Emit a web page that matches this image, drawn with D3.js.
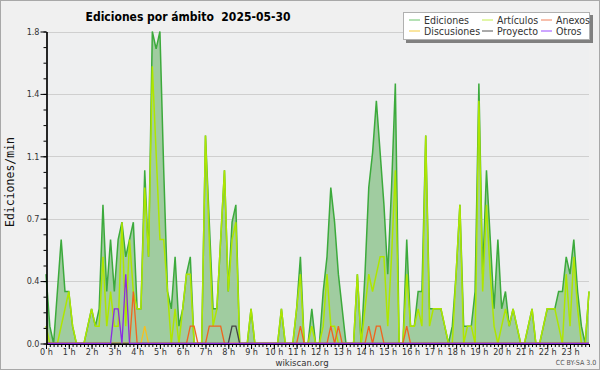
<!DOCTYPE html>
<html>
<head>
<meta charset="utf-8">
<script src="https://cdn.jsdelivr.net/npm/d3@7"></script>
<style>
  html, body { margin: 0; padding: 0; background: #fff; }
  svg { display: block; font-family: "DejaVu Sans Condensed", "DejaVu Sans", sans-serif; font-stretch: condensed; }
</style>
</head>
<body>
<div id="root"></div>
<script>
// Datos: ediciones por minuto, intervalos de 10 minutos (144 por día)
const hourLabels = ["0 h","1 h","2 h","3 h","4 h","5 h","6 h","7 h","8 h","9 h","10 h","11 h",
  "12 h","13 h","14 h","15 h","16 h","17 h","18 h","19 h","20 h","21 h","22 h","23 h"];

const ediciones = [
  0.4,0.1,0,0.3,0.6,0.3,0.3,0.1,0,0,0,0.1,
  0.2,0.1,0.2,0.8,0.3,0.6,0.3,0.6,0.7,0.5,0.6,0.7,
  0.2,0.2,1.0,0.5,1.8,1.7,1.8,1.0,0.3,0.2,0.5,0.1,
  0.2,0.4,0.5,0,0,0,1.2,0.7,0.2,0.2,0.6,1.0,
  0.3,0.7,0.8,0,0,0,0.2,0,0,0,0,0,
  0,0,0.2,0,0,0,0.2,0.5,0,0,0.2,0,
  0,0.3,0.5,0.9,0.7,0.4,0.2,0,0,0,0.4,0,
  0.4,0.9,1.1,1.4,1.1,0.8,0.4,0.9,1.5,0,0,0.6,
  0.1,0.1,0.3,0.3,1.2,0.2,0.2,0.2,0.2,0.1,0,0.1,
  0.4,0.8,0.1,0.1,0.1,0.3,1.5,0.4,1.0,0.6,0.2,0.6,
  0.2,0.3,0.1,0.2,0.1,0,0,0.1,0.2,0,0,0.1,
  0.2,0.2,0.2,0.3,0.3,0.5,0.4,0.6,0.3,0.1,0,0.3
];

const articulos = [
  0.1,0,0,0,0.1,0.2,0.3,0.1,0,0,0,0.1,
  0.2,0.1,0.1,0.5,0.1,0.3,0.1,0.1,0.7,0.1,0.6,0.3,
  0.2,0.2,0.9,0.5,1.6,1.1,0.6,0.6,0.3,0,0.2,0,
  0.2,0.4,0.4,0,0,0,1.2,0.6,0.1,0.2,0.6,1.0,
  0.3,0.6,0.7,0,0,0,0.2,0,0,0,0,0,
  0,0,0.2,0,0,0,0.2,0.4,0,0,0.1,0,
  0,0.1,0.4,0.1,0.1,0,0,0,0,0,0.4,0,
  0.2,0.4,0.3,0.4,0.5,0.5,0.1,0.5,1.0,0,0,0.4,
  0.1,0.1,0.2,0.1,1.2,0.1,0.2,0.2,0.2,0.1,0,0,
  0.4,0.8,0,0.1,0.1,0,1.4,0.3,0.8,0.4,0.1,0,
  0.1,0.2,0.1,0.2,0.1,0,0,0.1,0.2,0,0,0.1,
  0.2,0.2,0.2,0.1,0,0.4,0.1,0.5,0.2,0,0,0.3
];

const anexos = [
  0,0,0,0,0,0,0,0,0,0,0,0,0,0,0,0,0,0,0,0,0,0,0,0.3,
  0,0,0,0,0,0,0,0,0,0,0,0,0,0,0.1,0.1,0,0,0,0.1,0.1,0.1,0.1,0,
  0,0,0,0,0,0,0,0,0,0,0,0,0,0,0,0,0,0,0,0.1,0,0,0,0,
  0,0,0,0.1,0,0.1,0,0,0,0,0,0,0,0.1,0,0.1,0.1,0,0,0,0,0,0,0.1,
  0,0,0,0,0,0,0,0,0,0,0,0,0,0,0,0,0,0,0,0,0,0,0,0,
  0,0,0,0,0,0,0,0,0,0,0,0,0,0,0,0,0,0,0,0,0,0,0,0
];

const discusiones = [
  0,0,0,0,0,0,0,0,0,0,0,0,0,0,0,0,0,0,0,0,0,0,0,0,
  0,0,0.1,0,0,0,0,0,0,0,0,0,0,0,0,0,0,0,0,0,0,0,0,0,
  0,0,0,0,0,0,0,0,0,0,0,0,0,0,0,0,0,0,0,0,0,0,0,0,
  0,0,0,0,0,0,0,0,0,0,0,0,0,0,0,0,0,0,0,0,0,0,0,0,
  0,0,0,0,0,0,0,0,0,0,0,0,0,0,0,0,0,0,0,0,0,0,0,0,
  0,0,0,0,0,0,0,0,0,0,0,0,0,0,0,0,0,0,0,0,0,0,0,0
];

const proyecto = [
  0,0,0,0,0,0,0,0,0,0,0,0,0,0,0,0,0,0,0,0,0,0,0,0,
  0,0,0,0,0,0,0,0,0,0,0,0,0,0,0,0,0,0,0,0,0,0,0,0,
  0,0.1,0.1,0,0,0,0,0,0,0,0,0,0,0,0,0,0,0,0,0,0,0,0,0,
  0,0,0,0,0,0,0,0,0,0,0,0,0,0,0,0,0,0,0,0,0,0,0,0,
  0,0,0,0,0,0,0,0,0,0,0,0,0,0,0,0,0,0,0,0,0,0,0,0,
  0,0,0,0,0,0,0,0,0,0,0,0,0,0,0,0,0,0,0,0,0,0,0,0
];

const otros = [
  0,0,0,0,0,0,0,0,0,0,0,0,0,0,0,0,0,0,0.2,0.2,0,0.4,0,0,
  0,0,0,0,0,0,0,0,0,0,0,0,0,0,0,0,0,0,0,0,0,0,0,0,
  0,0,0,0,0,0,0,0,0,0,0,0,0,0,0,0,0,0,0,0,0,0,0,0,
  0,0,0,0,0,0,0,0,0,0,0,0,0,0,0,0,0,0,0,0,0,0,0,0,
  0,0,0,0,0,0,0,0,0,0,0,0,0,0,0,0,0,0,0,0,0,0,0,0,
  0,0,0,0,0,0,0,0,0,0,0,0,0,0,0,0,0,0,0,0,0,0,0,0
];

const yMajor = [0, 0.36, 0.72, 1.08, 1.44, 1.8];

// Series pequeñas, dibujadas como líneas encima del área total
const series = [
  { name: "Artículos",   values: articulos,   color: "#aee600", width: 1.5 },
  { name: "Anexos",      values: anexos,      color: "#f0641e", width: 1.3 },
  { name: "Discusiones", values: discusiones, color: "#f5c020", width: 1.3 },
  { name: "Proyecto",    values: proyecto,    color: "#444",    width: 1.3 },
  { name: "Otros",       values: otros,       color: "#8a2be2", width: 1.3 }
];

const width = 600;
const height = 370;

const svg = d3.select("#root")
  .append("svg")
    .attr("width", width)
    .attr("height", height);

svg.append("rect")
  .attr("x", 0.5).attr("y", 0.5)
  .attr("width", width - 1).attr("height", height - 1)
  .attr("fill", "#f0f0f0")
  .attr("stroke", "#a8a8a8");

const xScale = d3.scaleLinear()
  .domain([0, ediciones.length - 1])
  .range([46, 589]);

const yScale = d3.scaleLinear()
  .domain([0, 1.8])
  .range([343.5, 31.5]);

// Fondo del gráfico y rejilla
svg.append("rect")
  .attr("x", 46).attr("y", 31.5)
  .attr("width", 543).attr("height", 312)
  .attr("fill", "#eeeff0");

svg.append("g")
  .selectAll("line")
  .data(yMajor.slice(1))
  .enter()
  .append("line")
    .attr("x1", 46).attr("x2", 589)
    .attr("y1", d => Math.round(yScale(d)) + 0.5)
    .attr("y2", d => Math.round(yScale(d)) + 0.5)
    .attr("stroke", "#cfcfcf")
    .attr("stroke-width", 1);

// Área total de ediciones
const areaCreator = d3.area()
  .x((d, i) => xScale(i))
  .y0(yScale(0))
  .y1(d => yScale(d));

const lineCreator = d3.line()
  .x((d, i) => xScale(i))
  .y(d => yScale(d));

svg.append("path")
  .datum(ediciones)
    .attr("d", areaCreator)
    .attr("fill", "#a0cca0");

svg.append("path")
  .datum(ediciones)
    .attr("d", lineCreator)
    .attr("fill", "none")
    .attr("stroke", "#3caa3c")
    .attr("stroke-width", 1.5);

svg.selectAll("path.serie")
  .data(series)
  .enter()
  .append("path")
    .attr("class", "serie")
    .attr("d", d => lineCreator(d.values))
    .attr("fill", "none")
    .attr("stroke", d => d.color)
    .attr("stroke-width", d => d.width);

// Ejes
const yMinor = d3.range(21).map(k => k * 0.09);

const axisGroup = svg.append("g");

axisGroup.append("g")
  .attr("transform", "translate(46.5,0)")
  .call(d3.axisLeft(yScale).tickValues(yMinor).tickSize(3).tickSizeOuter(0).tickFormat(""));

axisGroup.append("g")
  .attr("transform", "translate(46.5,0)")
  .call(d3.axisLeft(yScale).tickValues(yMajor).tickSize(6).tickSizeOuter(0).tickPadding(1)
    .tickFormat(d => d.toFixed(1)));

axisGroup.append("g")
  .attr("transform", "translate(0,344)")
  .call(d3.axisBottom(xScale).tickValues(d3.range(ediciones.length)).tickSize(3).tickSizeOuter(0).tickFormat(""));

const hourAxis = axisGroup.append("g")
  .attr("transform", "translate(0,344)")
  .call(d3.axisBottom(xScale).tickValues(hourLabels.map((h, i) => i * 6)).tickSize(5).tickSizeOuter(0)
    .tickFormat(d => hourLabels[d / 6]));

hourAxis.selectAll(".tick text")
  .attr("y", 10.5)
  .attr("dy", null);

axisGroup.selectAll("path.domain").attr("stroke", "#000").attr("stroke-width", 1.2);
axisGroup.selectAll(".tick line").attr("stroke", "#000");
axisGroup.selectAll(".tick text")
  .attr("font-family", "'DejaVu Sans Condensed', 'DejaVu Sans', sans-serif")
  .attr("font-size", 9)
  .attr("fill", "#333");

// Títulos
svg.append("text")
  .text("Ediciones por ámbito  2025-05-30")
  .attr("x", 188).attr("y", 21)
  .attr("text-anchor", "middle")
  .style("font-size", "12px")
  .style("font-weight", "bold")
  .style("white-space", "pre");

svg.append("text")
  .text("Ediciones/min")
  .attr("transform", "translate(14,182)rotate(-90)")
  .attr("text-anchor", "middle")
  .style("font-family", "'DejaVu Sans Mono', monospace")
  .style("font-size", "11.5px")
  .attr("fill", "#111");

svg.append("text")
  .text("wikiscan.org")
  .attr("x", 302).attr("y", 366)
  .attr("text-anchor", "middle")
  .style("font-size", "9.5px")
  .attr("fill", "#333");

svg.append("text")
  .text("CC BY-SA 3.0")
  .attr("x", 576).attr("y", 365)
  .attr("text-anchor", "middle")
  .style("font-size", "7px")
  .attr("fill", "#555");

// Leyenda
const legendItems = [
  { name: "Ediciones",   color: "#6cc46c", col: 0, row: 0 },
  { name: "Artículos",   color: "#c4ee50", col: 1, row: 0 },
  { name: "Anexos",      color: "#f0805a", col: 2, row: 0 },
  { name: "Discusiones", color: "#f5cc40", col: 0, row: 1 },
  { name: "Proyecto",    color: "#555",    col: 1, row: 1 },
  { name: "Otros",       color: "#9b4dff", col: 2, row: 1 }
];
const colX = [409, 482, 541];

const legend = svg.append("g");
legend.append("rect")
  .attr("x", 406).attr("y", 15)
  .attr("width", 187).attr("height", 28)
  .attr("fill", "#808080");
legend.append("rect")
  .attr("x", 403.5).attr("y", 12.5)
  .attr("width", 186).attr("height", 27)
  .attr("fill", "#fff")
  .attr("stroke", "#b0b0b0");

const entry = legend.selectAll("g.entry")
  .data(legendItems)
  .enter()
  .append("g")
    .attr("class", "entry")
    .attr("transform", d => `translate(${colX[d.col]},${20 + d.row * 11})`);
entry.append("line")
  .attr("x1", 0).attr("x2", 11)
  .attr("stroke", d => d.color)
  .attr("stroke-width", 1);
entry.append("text")
  .text(d => d.name)
  .attr("x", 15).attr("y", 3.5)
  .style("font-size", "10.5px")
  .attr("fill", "#333");
</script>
</body>
</html>
